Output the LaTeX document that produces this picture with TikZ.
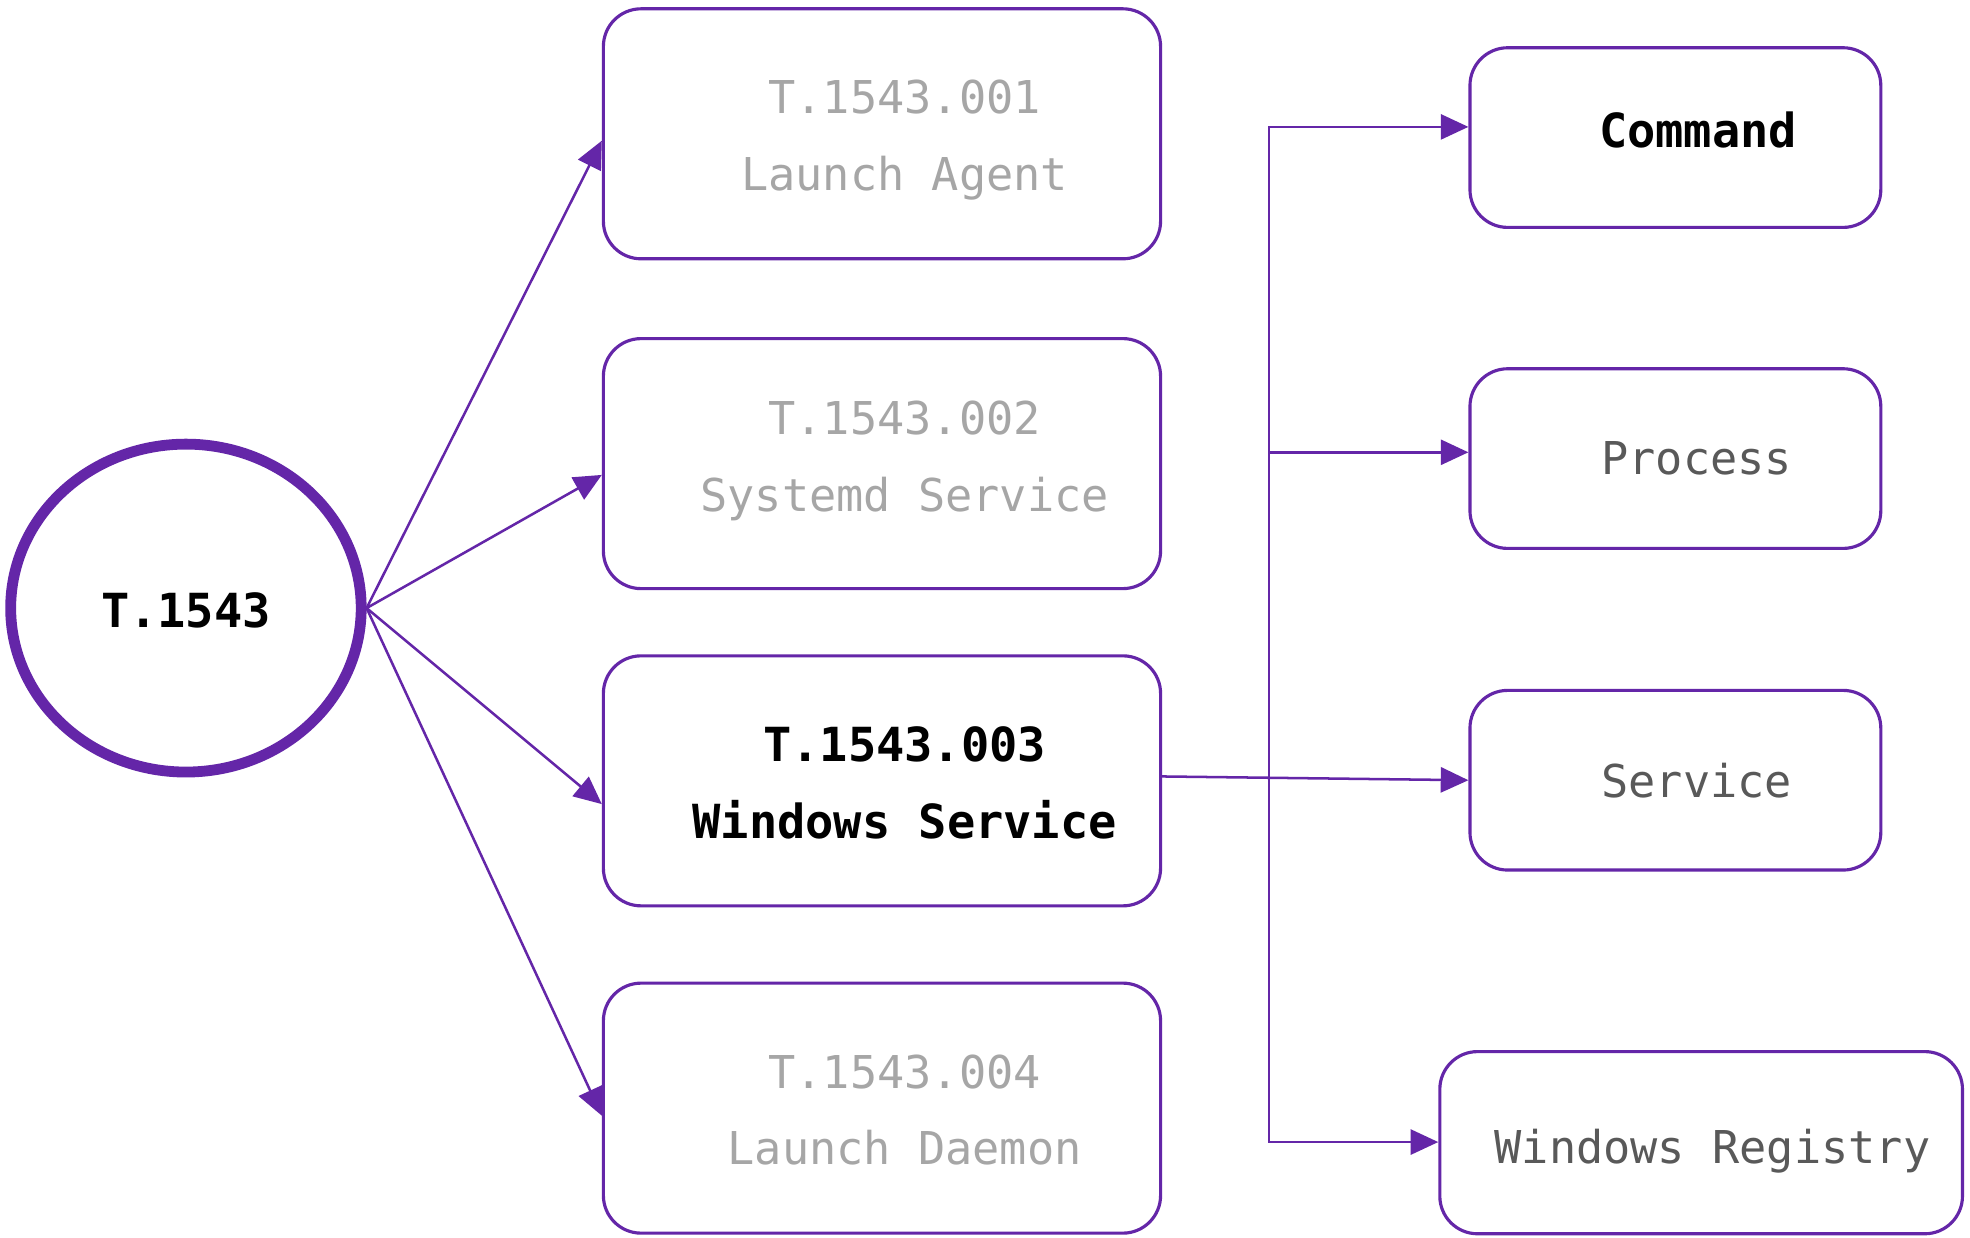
\documentclass[tikz,border=0pt]{standalone}
\usepackage{fontspec}
\setmonofont{DejaVu Sans Mono}
\usetikzlibrary{arrows.meta,shapes.geometric}
\definecolor{pur}{HTML}{6426A8}
\definecolor{lgrey}{HTML}{A6A6A6}
\definecolor{dgrey}{HTML}{595959}
\begin{document}
\begin{tikzpicture}[x=0.5pt,y=-0.5pt,
  box/.style={draw=pur,line width=1.25pt,rounded corners=15pt,inner sep=0pt},
  colbox/.style={box,minimum width=221.75pt,minimum height=99.5pt},
  rbox/.style={box,minimum width=163.5pt,minimum height=71.5pt},
  lbl/.style={font=\ttfamily\fontsize{18}{30.5}\selectfont,align=center,inner sep=0pt},
  blbl/.style={font=\ttfamily\bfseries\fontsize{18.7}{30.5}\selectfont,align=center,inner sep=0pt},
  conn/.style={draw=pur,line width=1pt,-{Triangle[length=11pt,width=10pt]}},
  conn2/.style={draw=pur,line width=1pt,{Triangle[length=11pt,width=10pt]}-{Triangle[length=11pt,width=10pt]}},
]
\useasboundingbox (0,0) rectangle (1568,985);
\fill[white] (0,0) rectangle (1568,985);

% root
\node[ellipse,draw=pur,line width=4.3pt,minimum width=139.5pt,minimum height=130.5pt,inner sep=0pt,
      label={[blbl,text=black,yshift=-1pt]center:T.1543}] (root) at (148,484) {};

% middle column
\node[colbox,label={[lbl,text=lgrey,xshift=9pt,yshift=-2.5pt]center:{T.1543.001\\Launch Agent}}] (b1) at (702,106.5) {};
\node[colbox,label={[lbl,text=lgrey,xshift=9pt,yshift=1pt]center:{T.1543.002\\Systemd Service}}] (b2) at (702,369) {};
\node[colbox,label={[blbl,text=black,xshift=9pt,yshift=-0.75pt]center:{T.1543.003\\Windows Service}}] (b3) at (702,621.5) {};
\node[colbox,label={[lbl,text=lgrey,xshift=9pt,yshift=-0.75pt]center:{T.1543.004\\Launch Daemon}}] (b4) at (702,882) {};

% right column
\node[rbox,label={[blbl,text=black,xshift=9pt,yshift=3pt]center:Command}] (cmd) at (1333.5,109.5) {};
\node[rbox,label={[lbl,text=dgrey,xshift=8.5pt]center:Process}] (proc) at (1333.5,365) {};
\node[rbox,label={[lbl,text=dgrey,xshift=8.5pt]center:Service}] (serv) at (1333.5,621) {};
\node[box,minimum width=208pt,minimum height=72.5pt,
      label={[lbl,text=dgrey,xshift=4.5pt,yshift=-3.5pt]center:Windows Registry}] (reg) at (1354,909.5) {};

% fan from root
\draw[conn] (root.east) -- ([yshift=-2.75pt]b1.west);
\draw[conn] (root.east) -- ([yshift=-4.5pt]b2.west);
\draw[conn] (root.east) -- ([yshift=-9.25pt]b3.west);
\draw[conn] (root.east) -- ([yshift=-3pt]b4.west);

% trunk
\coordinate (t1) at (1010,101);
\coordinate (t2) at (1010,360);
\coordinate (t4) at (1010,909);
\draw[conn2] (t1 -| cmd.west) -- (t1) -- (t4) -- (t4 -| reg.west);
\draw[conn] (t2) -- (t2 -| proc.west);
\draw[conn] ([yshift=1.75pt]b3.east) -- (serv.west);
\end{tikzpicture}
\end{document}
